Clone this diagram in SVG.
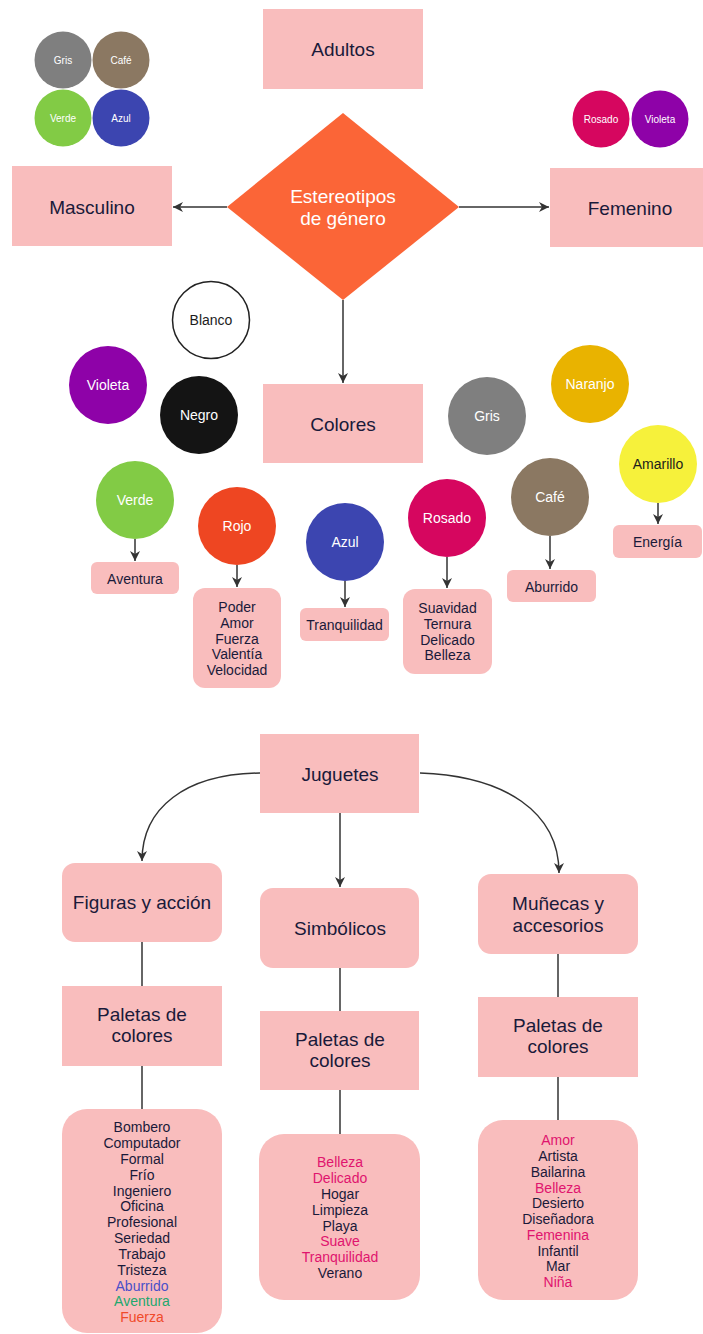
<svg xmlns="http://www.w3.org/2000/svg" width="703" height="1334" viewBox="0 0 703 1334">
<style>
.box{fill:#F9BDBD}
.lbl{font-family:"Liberation Sans",Arial,sans-serif;font-size:19px;fill:#1A1A3A;text-anchor:middle}
.wl{font-family:"Liberation Sans",Arial,sans-serif;font-size:19px;fill:#FFFFFF;text-anchor:middle}
.cl{font-family:"Liberation Sans",Arial,sans-serif;font-size:14px;fill:#FFFFFF;text-anchor:middle}
.cd{font-family:"Liberation Sans",Arial,sans-serif;font-size:14px;fill:#1C1C1C;text-anchor:middle}
.sc{font-family:"Liberation Sans",Arial,sans-serif;font-size:10px;fill:#FFFFFF;text-anchor:middle}
.lt{font-family:"Liberation Sans",Arial,sans-serif;font-size:14px;fill:#1A1A3A;text-anchor:middle}
.pk{fill:#E0146E}
.bl{fill:#4A50C8}
.gr{fill:#22A86E}
.rd{fill:#F04A2A}
.ln{stroke:#333333;stroke-width:1.5;fill:none}
.ar{stroke:#333333;stroke-width:1.5;fill:none;marker-end:url(#ah)}
</style>
<defs>
<marker id="ah" viewBox="0 0 10 10" refX="10" refY="5" markerWidth="10" markerHeight="10" orient="auto" markerUnits="userSpaceOnUse">
<path d="M0,0 L10,5 L0,10 L3,5 Z" fill="#333333"/>
</marker>
</defs>
<rect width="703" height="1334" fill="#FFFFFF"/>

<g id="connectors">
<line class="ar" x1="227" y1="207" x2="173" y2="207"/>
<line class="ar" x1="459" y1="207" x2="549" y2="207"/>
<line class="ar" x1="343" y1="300" x2="343" y2="383"/>
<line class="ar" x1="135" y1="539" x2="135" y2="561"/>
<line class="ar" x1="237" y1="565" x2="237" y2="587"/>
<line class="ar" x1="345" y1="581" x2="345" y2="607"/>
<line class="ar" x1="447" y1="557" x2="447" y2="588"/>
<line class="ar" x1="550" y1="536" x2="550" y2="569"/>
<line class="ar" x1="658" y1="503" x2="658" y2="524"/>
<path class="ar" d="M260,773 C185,774 142,808 142,861"/>
<line class="ar" x1="340" y1="813" x2="340" y2="887"/>
<path class="ar" d="M420,773 C505,776 559,812 559,873"/>
<line class="ln" x1="142" y1="942" x2="142" y2="986"/>
<line class="ln" x1="340" y1="968" x2="340" y2="1011"/>
<line class="ln" x1="558" y1="954" x2="558" y2="997"/>
<line class="ln" x1="142" y1="1066" x2="142" y2="1109"/>
<line class="ln" x1="340" y1="1090" x2="340" y2="1134"/>
<line class="ln" x1="558" y1="1077" x2="558" y2="1120"/>
</g>

<g id="adultos"><rect class="box" x="263" y="9" width="160" height="80"/><text class="lbl" x="343" y="56">Adultos</text></g>
<g id="top-gris"><circle cx="63" cy="60" r="28.5" fill="#7F7F7F"/><text class="sc" x="63" y="63.5">Gris</text></g>
<g id="top-cafe"><circle cx="121" cy="60" r="28.5" fill="#8B7862"/><text class="sc" x="121" y="63.5">Café</text></g>
<g id="top-verde"><circle cx="63" cy="118" r="28.5" fill="#82CB45"/><text class="sc" x="63" y="121.5">Verde</text></g>
<g id="top-azul"><circle cx="121" cy="118" r="28.5" fill="#3C45B0"/><text class="sc" x="121" y="121.5">Azul</text></g>
<g id="top-rosado"><circle cx="601" cy="119" r="28.5" fill="#D6065F"/><text class="sc" x="601" y="122.5">Rosado</text></g>
<g id="top-violeta"><circle cx="660" cy="119" r="28.5" fill="#8E02A8"/><text class="sc" x="660" y="122.5">Violeta</text></g>
<g id="masculino"><rect class="box" x="12" y="166" width="160" height="80"/><text class="lbl" x="92" y="214">Masculino</text></g>
<g id="femenino"><rect class="box" x="550" y="168" width="160" height="79"/><text class="lbl" x="630" y="215">Femenino</text></g>
<g id="estereotipos"><polygon points="343,113 459,207 343,300 227,207" fill="#FB6537"/><text class="wl" x="343" y="203">Estereotipos</text><text class="wl" x="343" y="225">de género</text></g>

<g id="colores"><rect class="box" x="263" y="384" width="160" height="79"/><text class="lbl" x="343" y="431">Colores</text></g>
<g id="blanco"><circle cx="211" cy="320" r="38.5" fill="#FFFFFF" stroke="#222222" stroke-width="1.5"/><text class="cd" x="211" y="325">Blanco</text></g>
<g id="violeta"><circle cx="108" cy="385" r="39" fill="#8E02A8"/><text class="cl" x="108" y="390">Violeta</text></g>
<g id="negro"><circle cx="199" cy="415" r="39" fill="#141414"/><text class="cl" x="199" y="420">Negro</text></g>
<g id="verde"><circle cx="135" cy="500" r="39" fill="#82CB45"/><text class="cl" x="135" y="505">Verde</text></g>
<g id="rojo"><circle cx="237" cy="526" r="39" fill="#EE4622"/><text class="cl" x="237" y="531">Rojo</text></g>
<g id="azul"><circle cx="345" cy="542" r="39" fill="#3C45B0"/><text class="cl" x="345" y="547">Azul</text></g>
<g id="rosado"><circle cx="447" cy="518" r="39" fill="#D6065F"/><text class="cl" x="447" y="523">Rosado</text></g>
<g id="gris"><circle cx="487" cy="416" r="39" fill="#7F7F7F"/><text class="cl" x="487" y="421">Gris</text></g>
<g id="naranjo"><circle cx="590" cy="384" r="39" fill="#E9B300"/><text class="cl" x="590" y="389">Naranjo</text></g>
<g id="cafe"><circle cx="550" cy="497" r="39" fill="#8B7862"/><text class="cl" x="550" y="502">Café</text></g>
<g id="amarillo"><circle cx="658" cy="464" r="39" fill="#F6F13B"/><text class="cd" x="658" y="469">Amarillo</text></g>

<g id="aventura"><rect class="box" x="91" y="562" width="88" height="32" rx="6"/><text class="lt" x="135" y="584">Aventura</text></g>
<g id="rojo-list"><rect class="box" x="193" y="588" width="88" height="100" rx="12"/>
<text class="lt" x="237" y="612">Poder</text><text class="lt" x="237" y="628">Amor</text><text class="lt" x="237" y="643.5">Fuerza</text><text class="lt" x="237" y="659">Valentía</text><text class="lt" x="237" y="675">Velocidad</text></g>
<g id="tranquilidad"><rect class="box" x="300" y="608" width="89" height="33" rx="6"/><text class="lt" x="344.5" y="630">Tranquilidad</text></g>
<g id="rosado-list"><rect class="box" x="403" y="589" width="89" height="85" rx="12"/>
<text class="lt" x="447.5" y="613">Suavidad</text><text class="lt" x="447.5" y="629">Ternura</text><text class="lt" x="447.5" y="644.5">Delicado</text><text class="lt" x="447.5" y="660">Belleza</text></g>
<g id="aburrido"><rect class="box" x="507" y="570" width="89" height="32" rx="6"/><text class="lt" x="551.5" y="592">Aburrido</text></g>
<g id="energia"><rect class="box" x="613" y="525" width="89" height="33" rx="6"/><text class="lt" x="657.5" y="547">Energía</text></g>

<g id="juguetes"><rect class="box" x="260" y="734" width="159" height="79"/><text class="lbl" x="340" y="781">Juguetes</text></g>
<g id="figuras"><rect class="box" x="62" y="863" width="160" height="79" rx="13"/><text class="lbl" x="142" y="909">Figuras y acción</text></g>
<g id="simbolicos"><rect class="box" x="260" y="888" width="159" height="80" rx="13"/><text class="lbl" x="340" y="935">Simbólicos</text></g>
<g id="munecas"><rect class="box" x="478" y="874" width="160" height="80" rx="13"/><text class="lbl" x="558" y="910">Muñecas y</text><text class="lbl" x="558" y="932">accesorios</text></g>

<g id="paletas-1"><rect class="box" x="62" y="986" width="160" height="80"/><text class="lbl" x="142" y="1021">Paletas de</text><text class="lbl" x="142" y="1042">colores</text></g>
<g id="paletas-2"><rect class="box" x="260" y="1011" width="159" height="79"/><text class="lbl" x="340" y="1046">Paletas de</text><text class="lbl" x="340" y="1067">colores</text></g>
<g id="paletas-3"><rect class="box" x="478" y="997" width="160" height="80"/><text class="lbl" x="558" y="1032">Paletas de</text><text class="lbl" x="558" y="1053">colores</text></g>

<g id="lista-1"><rect class="box" x="62" y="1109" width="160" height="224" rx="25"/>
<text class="lt" x="142" y="1132">Bombero</text>
<text class="lt" x="142" y="1148">Computador</text>
<text class="lt" x="142" y="1164">Formal</text>
<text class="lt" x="142" y="1179.5">Frío</text>
<text class="lt" x="142" y="1195.5">Ingeniero</text>
<text class="lt" x="142" y="1211">Oficina</text>
<text class="lt" x="142" y="1227">Profesional</text>
<text class="lt" x="142" y="1243">Seriedad</text>
<text class="lt" x="142" y="1259">Trabajo</text>
<text class="lt" x="142" y="1274.5">Tristeza</text>
<text class="lt bl" x="142" y="1290.5">Aburrido</text>
<text class="lt gr" x="142" y="1306">Aventura</text>
<text class="lt rd" x="142" y="1322">Fuerza</text>
</g>
<g id="lista-2"><rect class="box" x="259" y="1134" width="161" height="166" rx="25"/>
<text class="lt pk" x="340" y="1167">Belleza</text>
<text class="lt pk" x="340" y="1183">Delicado</text>
<text class="lt" x="340" y="1198.5">Hogar</text>
<text class="lt" x="340" y="1214.5">Limpieza</text>
<text class="lt" x="340" y="1230.5">Playa</text>
<text class="lt pk" x="340" y="1246">Suave</text>
<text class="lt pk" x="340" y="1262">Tranquilidad</text>
<text class="lt" x="340" y="1278">Verano</text>
</g>
<g id="lista-3"><rect class="box" x="478" y="1120" width="160" height="180" rx="25"/>
<text class="lt pk" x="558" y="1145">Amor</text>
<text class="lt" x="558" y="1161">Artista</text>
<text class="lt" x="558" y="1176.5">Bailarina</text>
<text class="lt pk" x="558" y="1192.5">Belleza</text>
<text class="lt" x="558" y="1208">Desierto</text>
<text class="lt" x="558" y="1224">Diseñadora</text>
<text class="lt pk" x="558" y="1240">Femenina</text>
<text class="lt" x="558" y="1255.5">Infantil</text>
<text class="lt" x="558" y="1271">Mar</text>
<text class="lt pk" x="558" y="1287">Niña</text>
</g>
</svg>
